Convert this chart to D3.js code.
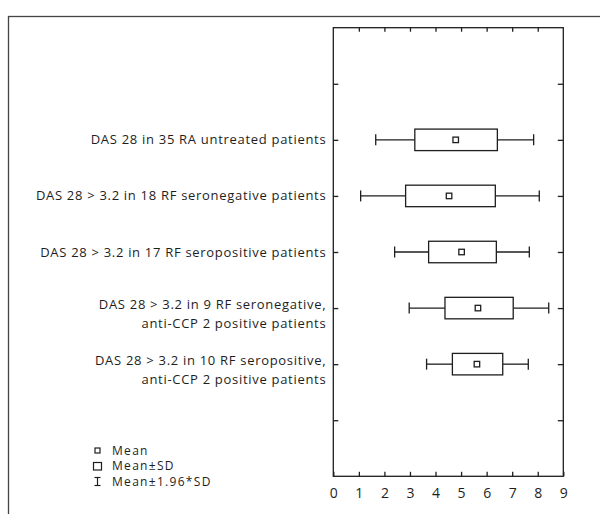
<!DOCTYPE html>
<html>
<head>
<meta charset="utf-8">
<script src="https://cdn.jsdelivr.net/npm/d3@7"></script>
<style>
  body { margin: 0; background: #fff; }
  svg { display: block; font-family: "Open Sans", Lato, sans-serif; }
</style>
</head>
<body>
<svg id="chart" width="600" height="514"></svg>
<script>
// groups, top to bottom (each label may span two lines)
const groups = [
  ["DAS 28 in 35 RA untreated patients"],
  ["DAS 28 > 3.2 in 18 RF seronegative patients"],
  ["DAS 28 > 3.2 in 17 RF seropositive patients"],
  ["DAS 28 > 3.2 in 9 RF seronegative,", "anti-CCP 2 positive patients"],
  ["DAS 28 > 3.2 in 10 RF seropositive,", "anti-CCP 2 positive patients"]
];
// values
const means   = [4.79, 4.53, 5.02, 5.66, 5.62];
const sdLow   = [3.19, 2.83, 3.73, 4.37, 4.66];   // mean - SD
const sdHigh  = [6.42, 6.34, 6.38, 7.04, 6.63];   // mean + SD
const ciLow   = [1.66, 1.07, 2.40, 2.97, 3.65];   // mean - 1.96*SD
const ciHigh  = [7.84, 8.06, 7.67, 8.43, 7.63];   // mean + 1.96*SD
const xTicks  = [0, 1, 2, 3, 4, 5, 6, 7, 8, 9];
const legendItems = ["Mean", "Mean\u00b1SD", "Mean\u00b11.96*SD"];

const svg = d3.select("#chart");
const ink = "#1e1e1e";

// outer frame (runs off the right and bottom edges)
svg.append("rect")
  .attr("x", 8.5).attr("y", 16.5)
  .attr("width", 620).attr("height", 520)
  .attr("fill", "none").attr("stroke", "#444").attr("stroke-width", 1.3);

const plot = { left: 333.3, right: 563.3, top: 27.7, bottom: 476.3 };

const x = d3.scaleLinear().domain([0, 9]).range([plot.left, plot.right]);
// 8 equal slots, rows sit on slots 1..5, ticks on 0..6
const y = d3.scaleLinear().domain([-1, 7]).range([plot.top, plot.bottom]);
const yTicks = d3.range(0, 7);

// plot border
svg.append("rect")
  .attr("x", plot.left).attr("y", plot.top)
  .attr("width", plot.right - plot.left).attr("height", plot.bottom - plot.top)
  .attr("fill", "none").attr("stroke", ink).attr("stroke-width", 1.3);

// axes with inward ticks
const bottomAxis = svg.append("g")
  .attr("transform", `translate(0,${plot.bottom})`)
  .call(d3.axisBottom(x).tickValues(xTicks).tickFormat(d3.format("d"))
    .tickSizeInner(-4.5).tickSizeOuter(0).tickPadding(12));
bottomAxis.select(".domain").remove();
bottomAxis.selectAll("text").style("font-size", "14px").style("font-family", "'Open Sans', sans-serif").attr("fill", ink);
bottomAxis.selectAll("line").attr("stroke", ink).attr("stroke-width", 1.3);

const topAxis = svg.append("g")
  .attr("transform", `translate(0,${plot.top})`)
  .call(d3.axisTop(x).tickValues(xTicks.slice(1, -1)).tickFormat("")
    .tickSizeInner(-4).tickSizeOuter(0));
topAxis.select(".domain").remove();
topAxis.selectAll("line").attr("stroke", ink).attr("stroke-width", 1.3);

const leftAxis = svg.append("g")
  .attr("transform", `translate(${plot.left},0)`)
  .call(d3.axisLeft(y).tickValues(yTicks).tickFormat("")
    .tickSizeInner(-5).tickSizeOuter(0));
leftAxis.select(".domain").remove();
leftAxis.selectAll("line").attr("stroke", ink).attr("stroke-width", 1.3);

const rightAxis = svg.append("g")
  .attr("transform", `translate(${plot.right},0)`)
  .call(d3.axisRight(y).tickValues(yTicks).tickFormat("")
    .tickSizeInner(-5.5).tickSizeOuter(0));
rightAxis.select(".domain").remove();
rightAxis.selectAll("line").attr("stroke", ink).attr("stroke-width", 1.3);

// category labels, right aligned against the plot
const labels = svg.append("g")
  .attr("text-anchor", "end")
  .style("font-size", "13px")
  .style("letter-spacing", "0.7px")
  .attr("fill", ink);
groups.forEach((lines, i) => {
  const t = labels.append("text")
    .attr("x", plot.left - 7)
    .attr("y", y(i + 1));
  if (lines.length === 1) {
    t.append("tspan").attr("x", plot.left - 7).attr("dy", "0.35em").text(lines[0]);
  } else {
    t.append("tspan").attr("x", plot.left - 7).attr("dy", "0.1em").text(lines[0]);
    t.append("tspan").attr("x", plot.left - 7).attr("dy", "1.4em").text(lines[1]);
  }
});

// box plots
const boxH = 21.5, capH = 11, markS = 5.5;
const rows = svg.append("g").attr("stroke", ink).attr("stroke-width", 1.3).attr("fill", "#fff");
groups.forEach((g, i) => {
  const cy = y(i + 1);
  const r = rows.append("g");
  r.append("line").attr("x1", x(ciLow[i])).attr("x2", x(sdLow[i])).attr("y1", cy).attr("y2", cy);
  r.append("line").attr("x1", x(sdHigh[i])).attr("x2", x(ciHigh[i])).attr("y1", cy).attr("y2", cy);
  r.append("line").attr("x1", x(ciLow[i])).attr("x2", x(ciLow[i])).attr("y1", cy - capH / 2).attr("y2", cy + capH / 2);
  r.append("line").attr("x1", x(ciHigh[i])).attr("x2", x(ciHigh[i])).attr("y1", cy - capH / 2).attr("y2", cy + capH / 2);
  r.append("rect")
    .attr("x", x(sdLow[i])).attr("y", cy - boxH / 2)
    .attr("width", x(sdHigh[i]) - x(sdLow[i])).attr("height", boxH);
  r.append("rect")
    .attr("x", x(means[i]) - markS / 2).attr("y", cy - markS / 2)
    .attr("width", markS).attr("height", markS);
});

// legend
const legend = svg.append("g");
const legY = [450.5, 466, 481.5];
legendItems.forEach((label, i) => {
  const cx = 97.5, cy = legY[i];
  const g = legend.append("g").attr("stroke", ink).attr("stroke-width", 1.2).attr("fill", "#fff");
  if (i === 0) {
    g.append("rect").attr("x", cx - 2.5).attr("y", cy - 2.5).attr("width", 5).attr("height", 5);
  } else if (i === 1) {
    g.append("rect").attr("x", cx - 4).attr("y", cy - 3.5).attr("width", 8).attr("height", 7.5);
  } else {
    g.append("line").attr("x1", cx).attr("x2", cx).attr("y1", cy - 4).attr("y2", cy + 4);
    g.append("line").attr("x1", cx - 3).attr("x2", cx + 3).attr("y1", cy - 4).attr("y2", cy - 4);
    g.append("line").attr("x1", cx - 3).attr("x2", cx + 3).attr("y1", cy + 4).attr("y2", cy + 4);
  }
  legend.append("text")
    .attr("x", 112).attr("y", cy).attr("dy", "0.35em")
    .style("font-size", "12px").style("letter-spacing", "1.3px").attr("fill", ink)
    .text(label);
});
</script>
</body>
</html>
